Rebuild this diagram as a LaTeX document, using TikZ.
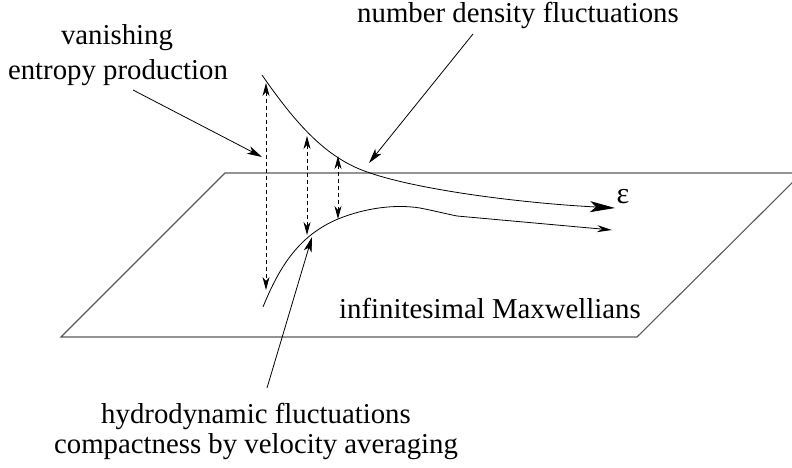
\documentclass[tikz,border=0pt]{standalone}
\usepackage{fontspec}
\setmainfont{Liberation Serif}
\usetikzlibrary{arrows.meta}
\tikzset{
  lbl/.style={anchor=base, inner sep=0pt, font=\fontsize{28.8}{34}\selectfont},
  thin line/.style={line width=0.8pt, black},
  plane/.style={line width=1.1pt, black!65},
  ptr/.style={thin line, -{Stealth[length=15pt,width=8pt,inset=4pt]}},
  dblptr/.style={thin line, dash pattern=on 4pt off 3pt, {Stealth[length=13pt,width=7pt,inset=4pt]}-{Stealth[length=13pt,width=7pt,inset=4pt]}},
  bigtip/.style={thin line, -{Stealth[length=25pt,width=11pt,inset=6pt]}},
  smalltip/.style={thin line, -{Stealth[length=15pt,width=7pt,inset=5pt]}}
}
\begin{document}
\begin{tikzpicture}[x=1pt,y=-1pt]
\useasboundingbox (0,0) rectangle (792,468);
\clip (0,0) rectangle (792,468);
% plane
\draw[plane] (225,173) -- (802,173) -- (637,337) -- (61,337) -- cycle;
% labels
\node[lbl] (van) at (117,45) {vanishing};
\node[lbl] (ent) at (118,80) {entropy production};
\node[lbl] (num) at (518,23) {number density fluctuations};
\node[lbl] (max) at (490,318) {infinitesimal Maxwellians};
\node[lbl] (hyd) at (256,423) {hydrodynamic fluctuations};
\node[lbl] (com) at (256,453) {compactness by velocity averaging};
\node[anchor=base, inner sep=0pt, font=\fontsize{30}{34}\selectfont] (eps) at (623,203) {ε};
% coordinates
\coordinate (entA) at (133,90);
\coordinate (entB) at (262,157);
\coordinate (numA) at (473,34);
\coordinate (numB) at (369,163);
\coordinate (hydA) at (267,388);
\coordinate (hydB) at (312,237);
\coordinate (d1a) at (266,83);  \coordinate (d1b) at (266,290);
\coordinate (d2a) at (307,136); \coordinate (d2b) at (307,235);
\coordinate (d3a) at (338,156); \coordinate (d3b) at (338,219);
\coordinate (u0) at (262,75); \coordinate (u1) at (370,173); \coordinate (u2) at (615,208);
\coordinate (l0) at (263,307); \coordinate (l1) at (338,219); \coordinate (lm) at (420,208); \coordinate (l2) at (457,216); \coordinate (l3) at (612,230);
% curves
\draw[bigtip] (u0) .. controls (300,130) and (330,160) .. (u1) .. controls (420,190) and (520,203) .. (u2);
\draw[smalltip] (l0) .. controls (280,265) and (300,235) .. (l1) .. controls (365,208) and (395,204) .. (lm) .. controls (435,211) and (447,214) .. (l2) -- (l3);
% pointers
\draw[ptr] (entA) -- (entB);
\draw[ptr] (numA) -- (numB);
\draw[ptr] (hydA) -- (hydB);
% dashed double arrows
\draw[dblptr] (d1a) -- (d1b);
\draw[dblptr] (d2a) -- (d2b);
\draw[dblptr] (d3a) -- (d3b);
\end{tikzpicture}
\end{document}
